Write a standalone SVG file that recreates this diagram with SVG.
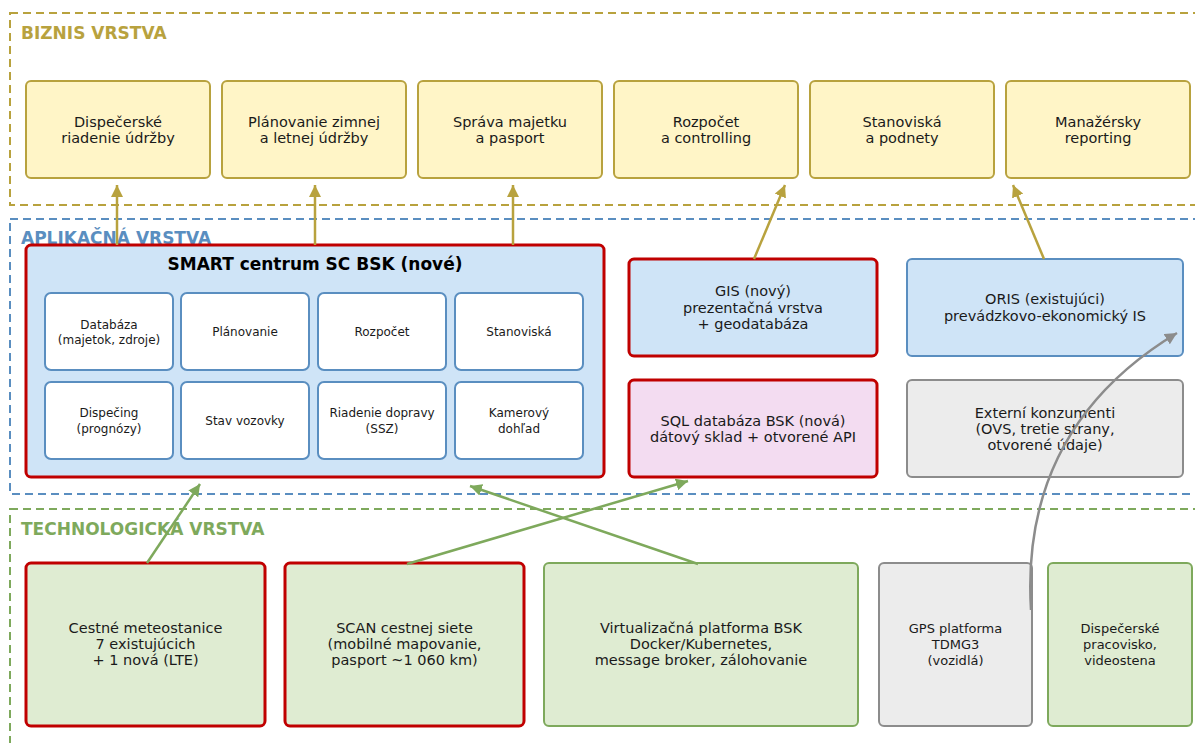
<svg xmlns="http://www.w3.org/2000/svg" width="1195" height="743" viewBox="0 0 1195 743">
<defs>
<style>
text{font-family:"DejaVu Sans","Liberation Sans",sans-serif;fill:#1a1a1a;text-anchor:middle}
.layer{fill:none;stroke-width:2;stroke-dasharray:8 5}
.lbl{font-weight:bold;font-size:17px;text-anchor:start}
.biz{fill:#fff5c7;stroke:#b8a23e;stroke-width:2}
.app{fill:#cfe4f7;stroke:#5a8ec0;stroke-width:2}
.cell{fill:#ffffff;stroke:#5a8ec0;stroke-width:2}
.tech{fill:#dfecd2;stroke:#7ea95c;stroke-width:2}
.gray{fill:#ececec;stroke:#8c8c8c;stroke-width:2}
.pink{fill:#f3dcf1}
rect.new{stroke:#c00000;stroke-width:3}
.t{font-size:14.5px}
.s{font-size:12px}
.m{font-size:13px}
.cg{fill:none;stroke:#b8a23e;stroke-width:2.5}
.cgr{fill:none;stroke:#7ea95c;stroke-width:2.5}
.cgy{fill:none;stroke:#8c8c8c;stroke-width:2.5}
</style>
<marker id="ag" viewBox="0 0 12 12" refX="12" refY="6" markerWidth="12" markerHeight="12" markerUnits="userSpaceOnUse" orient="auto"><path d="M0,0 L12,6 L0,12 z" fill="#b8a23e"/></marker>
<marker id="agr" viewBox="0 0 12 12" refX="12" refY="6" markerWidth="12" markerHeight="12" markerUnits="userSpaceOnUse" orient="auto"><path d="M0,0 L12,6 L0,12 z" fill="#7ea95c"/></marker>
<marker id="agy" viewBox="0 0 12 12" refX="12" refY="6" markerWidth="12" markerHeight="12" markerUnits="userSpaceOnUse" orient="auto"><path d="M0,0 L12,6 L0,12 z" fill="#8c8c8c"/></marker>
</defs>
<rect width="1195" height="743" fill="#ffffff"/>

<g id="layers">
<rect class="layer" x="10" y="13" width="1200" height="192" stroke="#b8a23e"/>
<text class="lbl" x="21" y="39" style="fill:#b8a23e">BIZNIS VRSTVA</text>
<rect class="layer" x="10" y="219" width="1200" height="275" stroke="#5a8ec0"/>
<text class="lbl" x="21" y="244" style="fill:#5a8ec0">APLIKAČNÁ VRSTVA</text>
<rect class="layer" x="10" y="509" width="1200" height="250" stroke="#7ea95c"/>
<text class="lbl" x="21" y="535" style="fill:#7ea95c">TECHNOLOGICKÁ VRSTVA</text>
</g>

<g id="biz1"><rect class="biz" x="26" y="81" width="184" height="97" rx="5"/><text class="t" x="118" y="127">Dispečerské</text><text class="t" x="118" y="143">riadenie údržby</text></g>
<g id="biz2"><rect class="biz" x="222" y="81" width="184" height="97" rx="5"/><text class="t" x="314" y="127">Plánovanie zimnej</text><text class="t" x="314" y="143">a letnej údržby</text></g>
<g id="biz3"><rect class="biz" x="418" y="81" width="184" height="97" rx="5"/><text class="t" x="510" y="127">Správa majetku</text><text class="t" x="510" y="143">a pasport</text></g>
<g id="biz4"><rect class="biz" x="614" y="81" width="184" height="97" rx="5"/><text class="t" x="706" y="127">Rozpočet</text><text class="t" x="706" y="143">a controlling</text></g>
<g id="biz5"><rect class="biz" x="810" y="81" width="184" height="97" rx="5"/><text class="t" x="902" y="127">Stanoviská</text><text class="t" x="902" y="143">a podnety</text></g>
<g id="biz6"><rect class="biz" x="1006" y="81" width="184" height="97" rx="5"/><text class="t" x="1098" y="127">Manažérsky</text><text class="t" x="1098" y="143">reporting</text></g>

<g id="smart">
<rect class="app new" x="26" y="245" width="578" height="232" rx="5"/>
<text x="315" y="270" style="font-weight:bold;font-size:17px;fill:#000">SMART centrum SC BSK (nové)</text>
<g id="c1"><rect class="cell" x="45" y="293" width="128" height="77" rx="6"/><text class="s" x="109" y="329">Databáza</text><text class="s" x="109" y="344">(majetok, zdroje)</text></g>
<g id="c2"><rect class="cell" x="181" y="293" width="128" height="77" rx="6"/><text class="s" x="245" y="336">Plánovanie</text></g>
<g id="c3"><rect class="cell" x="318" y="293" width="128" height="77" rx="6"/><text class="s" x="382" y="336">Rozpočet</text></g>
<g id="c4"><rect class="cell" x="455" y="293" width="128" height="77" rx="6"/><text class="s" x="519" y="336">Stanoviská</text></g>
<g id="c5"><rect class="cell" x="45" y="382" width="128" height="77" rx="6"/><text class="s" x="109" y="417">Dispečing</text><text class="s" x="109" y="433">(prognózy)</text></g>
<g id="c6"><rect class="cell" x="181" y="382" width="128" height="77" rx="6"/><text class="s" x="245" y="425">Stav vozovky</text></g>
<g id="c7"><rect class="cell" x="318" y="382" width="128" height="77" rx="6"/><text class="s" x="382" y="417">Riadenie dopravy</text><text class="s" x="382" y="433">(SSZ)</text></g>
<g id="c8"><rect class="cell" x="455" y="382" width="128" height="77" rx="6"/><text class="s" x="519" y="417">Kamerový</text><text class="s" x="519" y="433">dohľad</text></g>
</g>

<g id="gis"><rect class="app new" x="629" y="259" width="248" height="97" rx="5"/><text class="t" x="753" y="296">GIS (nový)</text><text class="t" x="753" y="313">prezentačná vrstva</text><text class="t" x="753" y="329">+ geodatabáza</text></g>
<g id="oris"><rect class="app" x="907" y="259" width="276" height="97" rx="5"/><text class="t" x="1045" y="304">ORIS (existujúci)</text><text class="t" x="1045" y="321">prevádzkovo-ekonomický IS</text></g>
<g id="sql"><rect class="pink new" x="629" y="380" width="248" height="97" rx="5"/><text class="t" x="753" y="426">SQL databáza BSK (nová)</text><text class="t" x="753" y="442">dátový sklad + otvorené API</text></g>
<g id="ext"><rect class="gray" x="907" y="380" width="276" height="97" rx="5"/><text class="t" x="1045" y="418">Externí konzumenti</text><text class="t" x="1045" y="434">(OVS, tretie strany,</text><text class="t" x="1045" y="450">otvorené údaje)</text></g>

<g id="meteo"><rect class="tech new" x="26" y="563" width="239" height="163" rx="5"/><text class="t" x="145.5" y="633">Cestné meteostanice</text><text class="t" x="145.5" y="649">7 existujúcich</text><text class="t" x="145.5" y="665">+ 1 nová (LTE)</text></g>
<g id="scan"><rect class="tech new" x="285" y="563" width="239" height="163" rx="5"/><text class="t" x="404.5" y="633">SCAN cestnej siete</text><text class="t" x="404.5" y="649">(mobilné mapovanie,</text><text class="t" x="404.5" y="665">pasport ~1 060 km)</text></g>
<g id="virt"><rect class="tech" x="544" y="563" width="314" height="163" rx="5"/><text class="t" x="701" y="633">Virtualizačná platforma BSK</text><text class="t" x="701" y="649">Docker/Kubernetes,</text><text class="t" x="701" y="665">message broker, zálohovanie</text></g>
<g id="gps"><rect class="gray" x="879" y="563" width="153" height="163" rx="5"/><text class="m" x="955.5" y="633">GPS platforma</text><text class="m" x="955.5" y="649">TDMG3</text><text class="m" x="955.5" y="665">(vozidlá)</text></g>
<g id="disp"><rect class="tech" x="1048" y="563" width="144" height="163" rx="5"/><text class="m" x="1120" y="633">Dispečerské</text><text class="m" x="1120" y="649">pracovisko,</text><text class="m" x="1120" y="665">videostena</text></g>

<g id="connectors">
<line class="cg" x1="117" y1="245" x2="117" y2="185" marker-end="url(#ag)"/>
<line class="cg" x1="315" y1="245" x2="315" y2="185" marker-end="url(#ag)"/>
<line class="cg" x1="513" y1="245" x2="513" y2="185" marker-end="url(#ag)"/>
<line class="cg" x1="754" y1="259" x2="785" y2="185" marker-end="url(#ag)"/>
<line class="cg" x1="1044" y1="259" x2="1013" y2="185" marker-end="url(#ag)"/>
<line class="cgr" x1="147" y1="563" x2="200" y2="484" marker-end="url(#agr)"/>
<line class="cgr" x1="407" y1="564" x2="688" y2="481" marker-end="url(#agr)"/>
<line class="cgr" x1="698" y1="564" x2="470" y2="486" marker-end="url(#agr)"/>
<path class="cgy" d="M1031,610 C1024,495 1066,400 1177,333" marker-end="url(#agy)"/>
</g>
</svg>
